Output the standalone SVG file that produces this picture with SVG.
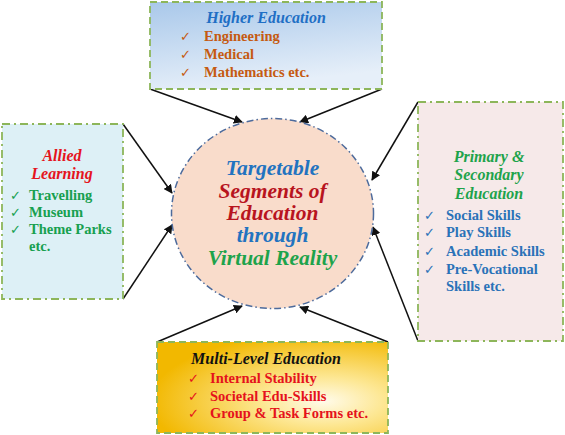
<svg xmlns="http://www.w3.org/2000/svg" width="565" height="435" viewBox="0 0 565 435">
<defs>
<style>
.t{font-family:"Liberation Serif","Times New Roman",serif;font-weight:bold}
.h{font-style:italic;font-size:16px;text-anchor:middle}
.i{font-size:14.5px}
.c{font-family:"DejaVu Sans",sans-serif;font-size:13px;font-weight:normal}
.ct{font-family:"Liberation Serif","Times New Roman",serif;font-weight:bold;font-style:italic;font-size:21.5px;text-anchor:middle}
.dash{fill:none;stroke:#8db65a;stroke-width:1.8;stroke-dasharray:7 4}
.dd{fill:none;stroke:#8db65a;stroke-width:1.8;stroke-dasharray:8 4 2 4}
.ar{stroke:#111;stroke-width:1.5;fill:none;marker-end:url(#ah)}
</style>
<marker id="ah" viewBox="0 0 10 10" refX="9" refY="5" markerWidth="6" markerHeight="6" orient="auto">
<path d="M0,0 L10,5 L0,10 z" fill="#111"/>
</marker>
<linearGradient id="gTop" x1="0" y1="0" x2="0.3" y2="1">
<stop offset="0" stop-color="#a9c8ea"/>
<stop offset="1" stop-color="#e6eff9"/>
</linearGradient>
<radialGradient id="gBot" cx="0.72" cy="0.65" r="0.75" fx="0.72" fy="0.65">
<stop offset="0" stop-color="#fffbea"/>
<stop offset="0.35" stop-color="#fde793"/>
<stop offset="1" stop-color="#f2b800"/>
</radialGradient>
</defs>
<rect width="565" height="435" fill="#fff"/>

<g id="connectors">
<line class="ar" x1="150" y1="89" x2="242" y2="122"/>
<line class="ar" x1="382" y1="89" x2="300" y2="122"/>
<line class="ar" x1="123" y1="124" x2="172" y2="193"/>
<line class="ar" x1="123" y1="299" x2="172" y2="225"/>
<line class="ar" x1="418" y1="102" x2="372" y2="180"/>
<line class="ar" x1="418" y1="341" x2="373" y2="227"/>
<line class="ar" x1="157" y1="342" x2="242" y2="306"/>
<line class="ar" x1="388" y1="342" x2="300" y2="307"/>
</g>

<g id="center">
<ellipse cx="272.5" cy="213.5" rx="101" ry="95" fill="#f9dccb" stroke="#4d6b9c" stroke-width="1.5" stroke-dasharray="7 3 1.5 3"/>
<text class="ct" x="272.5" y="175" fill="#2273c0">Targetable</text>
<text class="ct" x="272.5" y="198" fill="#b8141e">Segments of</text>
<text class="ct" x="272.5" y="220" fill="#b8141e">Education</text>
<text class="ct" x="272.5" y="242" fill="#2273c0">through</text>
<text class="ct" x="272.5" y="265" fill="#1ea34b">Virtual Reality</text>
</g>

<g id="higher">
<rect x="150" y="2" width="232" height="87" fill="url(#gTop)"/>
<rect x="150" y="2" width="232" height="87" class="dash"/>
<text class="t h" x="266" y="23" fill="#1f6fc5">Higher Education</text>
<g fill="#c55a11">
<text class="c" x="180" y="41">✓</text>
<text class="t i" x="204" y="41">Engineering</text>
<text class="c" x="180" y="59">✓</text>
<text class="t i" x="204" y="59">Medical</text>
<text class="c" x="180" y="77">✓</text>
<text class="t i" x="204" y="77">Mathematics etc.</text>
</g>
</g>

<g id="allied">
<rect x="2" y="124" width="121" height="175" fill="#ddf0f6"/>
<rect x="2" y="124" width="121" height="175" class="dd"/>
<text class="t h" x="62" y="161" fill="#e5141d">Allied</text>
<text class="t h" x="62" y="179" fill="#e5141d">Learning</text>
<g fill="#17a050">
<text class="c" x="10" y="200">✓</text>
<text class="t i" x="29" y="200">Travelling</text>
<text class="c" x="10" y="217">✓</text>
<text class="t i" x="29" y="217">Museum</text>
<text class="c" x="10" y="234">✓</text>
<text class="t i" x="29" y="234">Theme Parks</text>
<text class="t i" x="29" y="251">etc.</text>
</g>
</g>

<g id="primary">
<rect x="418" y="102" width="145" height="239" fill="#f6e9e9"/>
<rect x="418" y="102" width="145" height="239" class="dd"/>
<text class="t h" x="489" y="162" fill="#1ea34b">Primary &amp;</text>
<text class="t h" x="489" y="180" fill="#1ea34b">Secondary</text>
<text class="t h" x="489" y="199" fill="#1ea34b">Education</text>
<g fill="#2a72b8">
<text class="c" x="424" y="220">✓</text>
<text class="t i" x="446" y="220">Social Skills</text>
<text class="c" x="424" y="237">✓</text>
<text class="t i" x="446" y="237">Play Skills</text>
<text class="c" x="424" y="256">✓</text>
<text class="t i" x="446" y="256">Academic Skills</text>
<text class="c" x="424" y="274">✓</text>
<text class="t i" x="446" y="274">Pre-Vocational</text>
<text class="t i" x="446" y="291">Skills etc.</text>
</g>
</g>

<g id="multi">
<rect x="157" y="342" width="231" height="91" fill="url(#gBot)"/>
<rect x="157" y="342" width="231" height="91" class="dash"/>
<text class="t h" x="266" y="364" fill="#111">Multi-Level Education</text>
<g fill="#e5121c">
<text class="c" x="188" y="383">✓</text>
<text class="t i" x="210" y="383">Internal Stability</text>
<text class="c" x="188" y="401">✓</text>
<text class="t i" x="210" y="401">Societal Edu-Skills</text>
<text class="c" x="188" y="418">✓</text>
<text class="t i" x="210" y="418">Group &amp; Task Forms etc.</text>
</g>
</g>
</svg>
